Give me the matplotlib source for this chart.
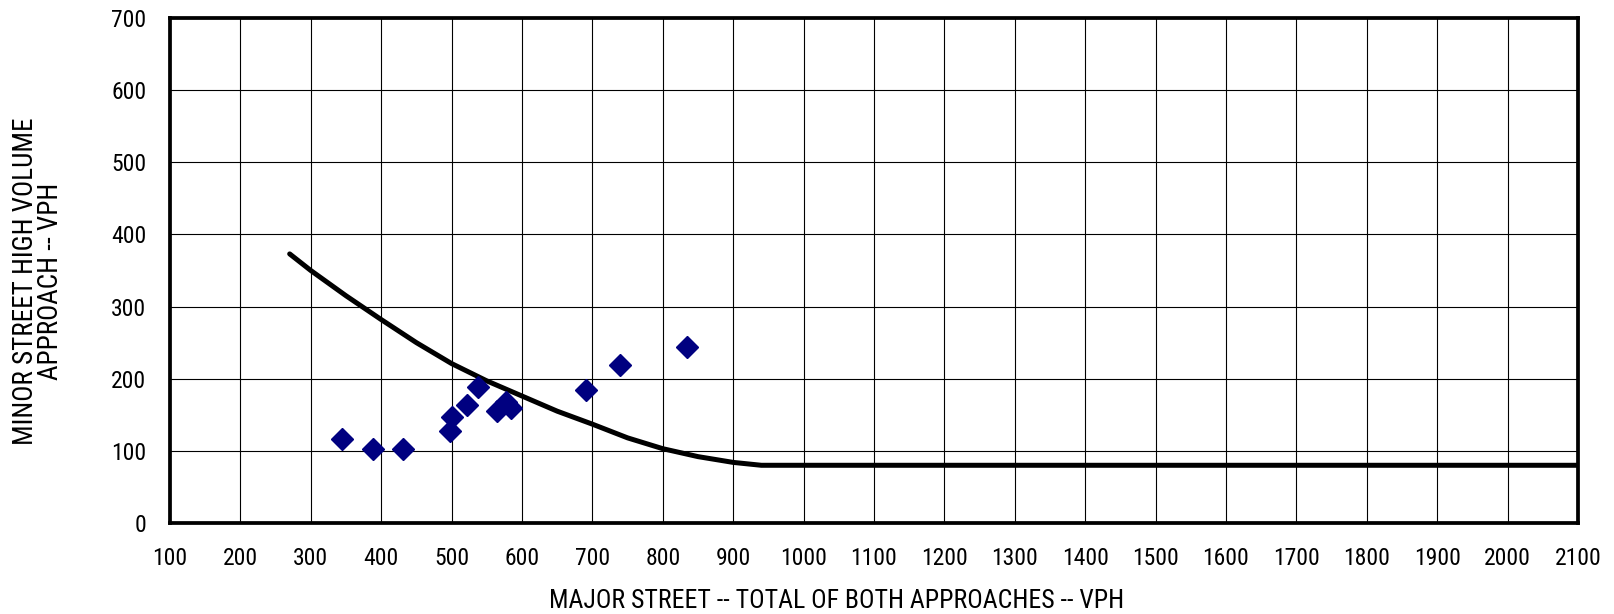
import matplotlib
matplotlib.use("Agg")
import matplotlib.pyplot as plt

# observed intersections (major street total, minor street high approach)
major_vph = [345, 388, 431, 498, 501, 522, 537, 565, 577, 584, 691, 739, 834]
minor_vph = [116, 102, 102, 128, 147, 164, 189, 155, 168, 160, 184, 219, 244]

# warrant threshold curve
curve_x = [270, 300, 350, 400, 450, 500, 550, 600, 650, 700, 750, 800, 850, 900, 940, 2100]
curve_y = [373, 350, 315, 282, 250, 221, 197, 176, 155, 137, 118, 103, 92, 84, 80, 80]

x_ticks = list(range(100, 2101, 100))
y_ticks = list(range(0, 701, 100))

plt.rcParams["font.family"] = ["Roboto Condensed", "Liberation Sans", "DejaVu Sans"]

fig = plt.figure(figsize=(16.14, 6.14), dpi=100)
ax = fig.add_axes([170 / 1614, 1 - 523 / 614, 1408 / 1614, 505 / 614])

ax.plot(curve_x, curve_y, color="black", lw=3.6, solid_capstyle="round", zorder=3)
ax.plot(major_vph, minor_vph, linestyle="none", marker="D", ms=11,
        color="#000080", markeredgecolor="#000080", zorder=4)

ax.set_xlim(100, 2100)
ax.set_ylim(0, 700)
ax.set_xticks(x_ticks)
ax.set_yticks(y_ticks)
ax.grid(True, color="black", lw=0.8)
ax.set_axisbelow(True)
ax.tick_params(length=0, labelsize=17, pad=17)
for s in ax.spines.values():
    s.set_linewidth(2.7)

fig.text(837 / 1614, 1 - 601 / 614, "MAJOR STREET -- TOTAL OF BOTH APPROACHES -- VPH",
         ha="center", va="center", fontsize=18.5)
fig.text(38 / 1614, 1 - 281 / 614, "MINOR STREET HIGH VOLUME\nAPPROACH -- VPH",
         ha="center", va="center", rotation=90, fontsize=19.5, linespacing=0.95)

fig.savefig("out.png", dpi=100)
